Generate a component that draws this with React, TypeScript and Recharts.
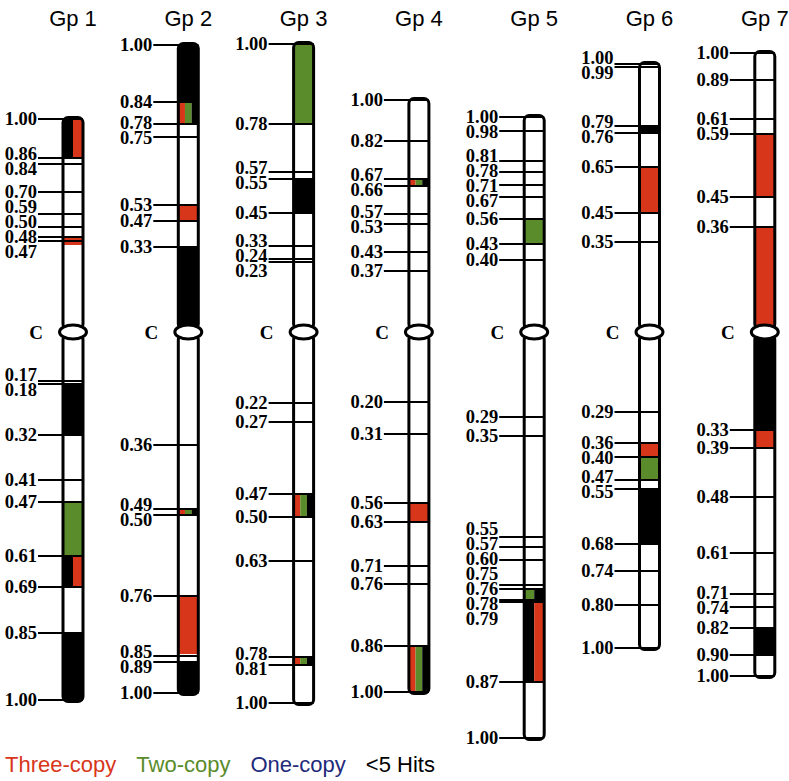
import type { FC } from 'react';
import {
  ComposedChart,
  XAxis,
  YAxis,
  ReferenceArea,
  ReferenceLine,
  ReferenceDot,
} from 'recharts';

// copy-number class of a band
type Kind = 'three' | 'two' | 'one' | 'low';
// [tick label, distance from centromere]
type Mark = [string, number];
// [from, to, classes side by side]
type Band = [number, number, Kind[]];

const groups = ['Gp 1', 'Gp 2', 'Gp 3', 'Gp 4', 'Gp 5', 'Gp 6', 'Gp 7'];

const gp1Up: Mark[] = [['1.00', 213], ['0.86', 174], ['0.84', 168], ['0.70', 140], ['0.59', 118], ['0.50', 105], ['0.48', 95], ['0.47', 91]];
const gp1UpBands: Band[] = [[174, 213, ['low', 'three']], [87, 95, ['three']]];
const gp1Down: Mark[] = [['0.17', 49], ['0.18', 52], ['0.32', 103], ['0.41', 148], ['0.47', 170], ['0.61', 224], ['0.69', 255], ['0.85', 301], ['1.00', 368]];
const gp1DownBands: Band[] = [[53, 103, ['low']], [170, 224, ['two']], [224, 255, ['low', 'three']], [301, 369, ['low']]];

const gp2Up: Mark[] = [['1.00', 287], ['0.84', 230], ['0.78', 208], ['0.75', 195], ['0.53', 127], ['0.47', 111], ['0.33', 85]];
const gp2UpBands: Band[] = [[230, 288, ['low']], [208, 230, ['three', 'two', 'low']], [111, 127, ['three']], [0, 85, ['low']]];
const gp2Down: Mark[] = [['0.36', 113], ['0.49', 177], ['0.50', 183], ['0.76', 264], ['0.85', 324], ['0.89', 330], ['1.00', 361]];
const gp2DownBands: Band[] = [[177, 184, ['three', 'two', 'low']], [264, 322, ['three']], [330, 362, ['low']]];

const gp3Up: Mark[] = [['1.00', 288], ['0.78', 208], ['0.57', 160], ['0.55', 153], ['0.45', 119], ['0.33', 86], ['0.24', 73], ['0.23', 70]];
const gp3UpBands: Band[] = [[208, 289, ['two']], [119, 153, ['low']]];
const gp3Down: Mark[] = [['0.22', 71], ['0.27', 90], ['0.47', 162], ['0.50', 185], ['0.63', 229], ['0.78', 325], ['0.81', 333], ['1.00', 371]];
const gp3DownBands: Band[] = [[162, 185, ['three', 'two', 'low']], [325, 333, ['three', 'two', 'low']]];

const gp4Up: Mark[] = [['1.00', 232], ['0.82', 191], ['0.67', 153], ['0.66', 146], ['0.57', 118], ['0.53', 108], ['0.43', 80], ['0.37', 61]];
const gp4UpBands: Band[] = [[146, 153, ['three', 'two', 'low']]];
const gp4Down: Mark[] = [['0.20', 70], ['0.31', 102], ['0.56', 171], ['0.63', 190], ['0.71', 234], ['0.76', 252], ['0.86', 314], ['1.00', 360]];
const gp4DownBands: Band[] = [[171, 190, ['three']], [314, 361, ['three', 'two', 'low']]];

const gp5Up: Mark[] = [['1.00', 215], ['0.98', 201], ['0.81', 171], ['0.78', 160], ['0.71', 147], ['0.67', 135], ['0.56', 113], ['0.43', 88], ['0.40', 72]];
const gp5UpBands: Band[] = [[88, 113, ['two']]];
const gp5Down: Mark[] = [['0.29', 85], ['0.35', 104], ['0.55', 205], ['0.57', 215], ['0.60', 228], ['0.75', 253], ['0.76', 257], ['0.78', 268], ['0.79', 270], ['0.87', 350], ['1.00', 406]];
const gp5DownBands: Band[] = [[257, 268, ['two', 'low']], [268, 350, ['low', 'three']]];

const gp6Up: Mark[] = [['1.00', 268], ['0.99', 265], ['0.79', 206], ['0.76', 199], ['0.65', 165], ['0.45', 119], ['0.35', 90]];
const gp6UpBands: Band[] = [[199, 206, ['low']], [119, 165, ['three']]];
const gp6Down: Mark[] = [['0.29', 80], ['0.36', 111], ['0.40', 125], ['0.47', 148], ['0.55', 157], ['0.68', 212], ['0.74', 239], ['0.80', 273], ['1.00', 316]];
const gp6DownBands: Band[] = [[111, 125, ['three']], [125, 148, ['two']], [157, 212, ['low']]];

const gp7Up: Mark[] = [['1.00', 279], ['0.89', 252], ['0.61', 213], ['0.59', 198], ['0.45', 135], ['0.36', 105]];
const gp7UpBands: Band[] = [[135, 198, ['three']], [0, 105, ['three']]];
const gp7Down: Mark[] = [['0.33', 98], ['0.39', 116], ['0.48', 165], ['0.61', 221], ['0.71', 262], ['0.74', 275], ['0.82', 296], ['0.90', 323], ['1.00', 344]];
const gp7DownBands: Band[] = [[0, 98, ['low']], [98, 116, ['three']], [296, 323, ['low']]];

const legendItems: [string, Kind][] = [
  ['Three-copy', 'three'],
  ['Two-copy', 'two'],
  ['One-copy', 'one'],
  ['<5 Hits', 'low'],
];

const chromosomes = [
  { up: gp1Up, upBands: gp1UpBands, down: gp1Down, downBands: gp1DownBands },
  { up: gp2Up, upBands: gp2UpBands, down: gp2Down, downBands: gp2DownBands },
  { up: gp3Up, upBands: gp3UpBands, down: gp3Down, downBands: gp3DownBands },
  { up: gp4Up, upBands: gp4UpBands, down: gp4Down, downBands: gp4DownBands },
  { up: gp5Up, upBands: gp5UpBands, down: gp5Down, downBands: gp5DownBands },
  { up: gp6Up, upBands: gp6UpBands, down: gp6Down, downBands: gp6DownBands },
  { up: gp7Up, upBands: gp7UpBands, down: gp7Down, downBands: gp7DownBands },
];

const colors: Record<Kind, string> = {
  three: '#d8361a',
  two: '#5a8c2b',
  one: '#1f2b7b',
  low: '#000000',
};

const WIDTH = 789;
const HEIGHT = 781;
const STEP = 115.3; // px between chromosome centres
const FIRST = 73; // px of first centre
const CENTRO_Y = 332;
const TITLE_H = 34;
const PX = 1 / STEP;
const HALF = 10 * PX;
const LABEL_GAP = 15;
const SERIF = '"Liberation Serif", "Times New Roman", serif';
const SANS = '"Liberation Sans", Arial, sans-serif';

// push overlapping labels apart (positions measured downward)
function spread(values: number[], gap: number): number[] {
  const order = values.map((_, i) => i).sort((a, b) => values[a] - values[b]);
  const blocks: { idx: number[]; start: number }[] = [];
  for (const i of order) {
    blocks.push({ idx: [i], start: values[i] });
    while (blocks.length > 1) {
      const b = blocks[blocks.length - 1];
      const a = blocks[blocks.length - 2];
      if (a.start + a.idx.length * gap <= b.start) break;
      const idx = [...a.idx, ...b.idx];
      const mean = idx.reduce((s, j, k) => s + values[j] - k * gap, 0) / idx.length;
      blocks.splice(blocks.length - 2, 2, { idx, start: mean });
    }
  }
  const out: number[] = new Array(values.length);
  blocks.forEach((b) => b.idx.forEach((j, k) => { out[j] = b.start + k * gap; }));
  return out;
}

const rectShape = (fill: string, stroke: string, r: number) => (p: any) => (
  <rect
    x={p.x}
    y={p.y}
    width={p.width}
    height={p.height}
    rx={r}
    fill={fill}
    stroke={stroke}
    strokeWidth={3}
  />
);

const textShape = (txt: string, size: number) => (p: any) => (
  <text
    x={p.cx}
    y={p.cy}
    textAnchor="end"
    dominantBaseline="central"
    fontFamily={SERIF}
    fontWeight="bold"
    fontSize={size}
    fill="#000"
  >
    {txt}
  </text>
);

const ellipseShape = (p: any) => (
  <ellipse cx={p.cx} cy={p.cy} rx={13.5} ry={7} fill="#fff" stroke="#000" strokeWidth={3} />
);

function arm(i: number, sign: number, marks: Mark[], bands: Band[]) {
  const key = `${i}${sign > 0 ? 'u' : 'd'}`;
  const end = Math.max(...marks.map((m) => m[1])) + 1.5;
  const out: JSX.Element[] = [];
  out.push(
    <ReferenceArea
      key={`${key}bg`}
      x1={i - HALF}
      x2={i + HALF}
      y1={sign * 3}
      y2={sign * end}
      fillOpacity={1}
      shape={rectShape('#fff', 'none', 5)}
    />,
  );
  bands.forEach(([a, b, kinds], bi) => {
    kinds.forEach((k, ki) => {
      const w = (2 * HALF) / kinds.length;
      out.push(
        <ReferenceArea
          key={`${key}b${bi}${ki}`}
          x1={i - HALF + ki * w}
          x2={i - HALF + (ki + 1) * w}
          y1={sign * a}
          y2={sign * b}
          fillOpacity={1}
          shape={rectShape(colors[k], 'none', 0)}
        />,
      );
    });
  });
  marks.forEach(([, d], mi) => {
    out.push(
      <ReferenceLine
        key={`${key}l${mi}`}
        segment={[{ x: i - 35 * PX, y: sign * d }, { x: i + HALF, y: sign * d }]}
        stroke="#000"
        strokeWidth={2}
      />,
    );
  });
  out.push(
    <ReferenceArea
      key={`${key}bd`}
      x1={i - HALF}
      x2={i + HALF}
      y1={sign * 3}
      y2={sign * end}
      shape={rectShape('none', '#000', 5)}
    />,
  );
  const placed = spread(marks.map(([, d]) => -sign * d), LABEL_GAP);
  marks.forEach(([label], mi) => {
    out.push(
      <ReferenceDot
        key={`${key}t${mi}`}
        x={i - 36 * PX}
        y={-placed[mi]}
        shape={textShape(label, 18.5)}
      />,
    );
  });
  return out;
}

const App: FC = () => {
  const items: JSX.Element[] = [];
  chromosomes.forEach((c, i) => {
    items.push(...arm(i, 1, c.up, c.upBands));
    items.push(...arm(i, -1, c.down, c.downBands));
  });
  chromosomes.forEach((_, i) => {
    items.push(<ReferenceDot key={`c${i}`} x={i} y={0} shape={ellipseShape} />);
    items.push(<ReferenceDot key={`cl${i}`} x={i - 30 * PX} y={0} shape={textShape('C', 19)} />);
  });

  return (
    <div style={{ position: 'absolute', left: 0, top: 0, width: WIDTH, height: HEIGHT, background: '#fff' }}>
      <ComposedChart
        width={WIDTH}
        height={HEIGHT}
        data={groups.map((g, i) => ({ x: i, y: 0, name: g }))}
        margin={{ top: 0, right: 0, bottom: 0, left: 0 }}
      >
        <XAxis
          type="number"
          dataKey="x"
          orientation="top"
          domain={[-FIRST / STEP, (WIDTH - FIRST) / STEP]}
          allowDataOverflow
          ticks={groups.map((_, i) => i)}
          interval={0}
          tickFormatter={(v: number) => groups[v] ?? ''}
          height={TITLE_H}
          axisLine={false}
          tickLine={false}
          tick={{ fontSize: 22, fill: '#000', fontFamily: SANS }}
        />
        <YAxis
          type="number"
          dataKey="y"
          domain={[-(HEIGHT - CENTRO_Y), CENTRO_Y - TITLE_H]}
          allowDataOverflow
          hide
        />
        {items}
      </ComposedChart>
      <div
        style={{
          position: 'absolute',
          left: 5,
          top: 752,
          display: 'flex',
          gap: 20,
          fontFamily: SANS,
          fontSize: 22,
          lineHeight: '26px',
        }}
      >
        {legendItems.map(([label, k]) => (
          <span key={label} style={{ color: colors[k] }}>
            {label}
          </span>
        ))}
      </div>
    </div>
  );
};

export default App;
